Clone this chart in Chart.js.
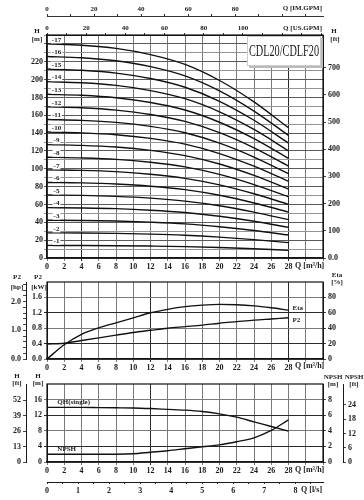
<!DOCTYPE html>
<html>
<head>
<meta charset="utf-8">
<script src="https://cdn.jsdelivr.net/npm/chart.js@4/dist/chart.umd.min.js"></script>
<style>
  html, body { margin: 0; padding: 0; background: #fff; }
  #wrap { position: relative; width: 364px; height: 500px; }
  canvas { position: absolute; left: 0; }
</style>
</head>
<body>
<div id="wrap">
  <canvas id="qhChart" width="364" height="272" style="top:0"></canvas>
  <canvas id="powerChart" width="364" height="104" style="top:268px"></canvas>
  <canvas id="npshChart" width="364" height="128" style="top:372px"></canvas>
</div>
<script>
// ---- data ----
// QH curves, one row per stage count (1..17), head in m at stageQ
const stageQ = [0, 4, 8, 12, 16, 20, 24, 28];
const stageHeads = [
  [14.1, 14.0, 13.8, 13.4, 12.8, 11.7, 10.3, 8.6],
  [28.2, 28.1, 27.6, 26.8, 25.5, 23.4, 20.6, 17.2],
  [42.4, 42.1, 41.5, 40.2, 38.3, 35.1, 30.9, 25.8],
  [56.5, 56.1, 55.3, 53.6, 51.0, 46.8, 41.2, 34.4],
  [70.6, 70.2, 69.1, 67.1, 63.8, 58.6, 51.5, 43.0],
  [84.7, 84.2, 82.9, 80.5, 76.6, 70.3, 61.7, 51.5],
  [98.8, 98.2, 96.8, 93.9, 89.3, 82.0, 72.0, 60.1],
  [113.0, 112.2, 110.6, 107.3, 102.1, 93.7, 82.3, 68.7],
  [127.1, 126.3, 124.4, 120.7, 114.8, 105.4, 92.6, 77.3],
  [141.2, 140.3, 138.2, 134.1, 127.6, 117.1, 102.9, 85.9],
  [155.3, 154.3, 152.0, 147.5, 140.4, 128.8, 113.2, 94.5],
  [169.4, 168.4, 165.8, 160.9, 153.1, 140.5, 123.5, 103.1],
  [183.5, 182.4, 179.7, 174.3, 165.9, 152.2, 133.8, 111.7],
  [197.7, 196.4, 193.5, 187.7, 178.6, 163.9, 144.1, 120.2],
  [211.8, 210.4, 207.3, 201.2, 191.4, 175.7, 154.4, 128.8],
  [225.9, 224.5, 221.1, 214.6, 204.2, 187.4, 164.7, 137.4],
  [240.0, 238.5, 235.0, 228.0, 217.0, 199.0, 175.0, 146.0]
];

// power / efficiency and single stage head / NPSH
const curveQ = [0, 2, 4, 6, 8, 10, 12, 14, 16, 18, 20, 22, 24, 26, 28];
const p2Kw = [0.39, 0.41, 0.48, 0.55, 0.62, 0.69, 0.745, 0.80, 0.84, 0.88, 0.93, 0.97, 1.01, 1.04, 1.07];
const etaPct = [0, 18.5, 32, 40.5, 47, 53.5, 60, 64.5, 68, 70, 71, 70.5, 69, 66.5, 63.5];
const qhSingle = [14.0, 14.0, 14.0, 13.95, 13.9, 13.85, 13.7, 13.5, 13.3, 12.95, 12.35, 11.5, 10.3, 9.1, 7.9];
const npshReq = [1.0, 1.0, 1.0, 1.0, 1.0, 1.05, 1.25, 1.45, 1.7, 1.95, 2.2, 2.6, 3.1, 4.05, 5.4];

// tick labels
const qLabels = [0, 2, 4, 6, 8, 10, 12, 14, 16, 18, 20, 22, 24, 26, 28];
const usGpmLabels = [0, 20, 40, 60, 80, 100];
const imGpmLabels = [0, 20, 40, 60, 80];
const headLabels = [0, 20, 40, 60, 80, 100, 120, 140, 160, 180, 200, 220];
const headFtTicks = [0, 100, 200, 300, 400, 500, 600, 700];
const kwTicks = [0, 0.4, 0.8, 1.2, 1.6];
const hpLabels = [0, 1, 2];
const etaTicks = [0, 20, 40, 60, 80];
const hTicks = [0, 4, 8, 12, 16];
const hFtTicks = [0, 13, 26, 39, 52];
const npshTicks = [0, 2, 4, 6, 8];
const npshFtTicks = [0, 6, 12, 18, 24];
const lsLabels = [0, 1, 2, 3, 4, 5, 6, 7, 8];

// ---- helpers ----
const ink = "#1a1a1a";
const serif = "Liberation Serif";
const tickFont = { family: serif, size: 8, weight: "bold" };
const smallFont = { family: serif, size: 7, weight: "bold" };
const noteFont = 'bold 7px "Liberation Serif"';
const QMAX = 32;

Chart.defaults.font.family = serif;
Chart.defaults.color = ink;

function fixWidth(w) { return s => { s.width = w; }; }
function fixHeight(h) { return s => { s.height = h; }; }
function setTicks(list) { return s => { s.ticks = list.map(v => ({ value: v })); }; }
function steps(max, step) {
  const out = [];
  for (let i = 0; i * step <= max + 1e-9; i++) out.push(Math.round(i * step * 100) / 100);
  return out;
}
function pairs(xs, ys) { return xs.map((x, i) => ({ x: x, y: ys[i] })); }
function has(list, v) { return list.some(t => Math.abs(t - v) < 1e-6); }

function curve(data, yAxisID) {
  return {
    data: data, xAxisID: "x", yAxisID: yAxisID,
    borderColor: "#111", borderWidth: 1.4, pointRadius: 0,
    cubicInterpolationMode: "monotone", fill: false
  };
}

function qAxis(height, dark) {
  return {
    type: "linear", position: "bottom", min: 0, max: QMAX, weight: 0,
    afterFit: fixHeight(height),
    afterBuildTicks: setTicks(steps(QMAX, 2)),
    ticks: { autoSkip: false, maxRotation: 0, padding: 1, font: tickFont, color: ink,
      callback: v => has(qLabels, v) ? v : "" },
    grid: { tickLength: 3, lineWidth: 1,
      color: c => has(dark, c.tick.value) ? "#2a2a2a" : "#7a7a7a" },
    border: { color: ink, width: 1.2 }
  };
}

function sideAxis(pos, weight, width, min, max, ticks, fmt, onChart) {
  return {
    type: "linear", position: pos, min: min, max: max, weight: weight,
    afterFit: fixWidth(width),
    afterBuildTicks: setTicks(ticks),
    ticks: { autoSkip: false, padding: 2, font: tickFont, color: ink, callback: fmt },
    grid: { drawOnChartArea: !!onChart, tickLength: 3, color: "#444" },
    border: { color: ink, width: 1 }
  };
}

const framePlugin = {
  id: "frame",
  afterDatasetsDraw(chart) {
    const a = chart.chartArea, ctx = chart.ctx;
    ctx.save();
    ctx.strokeStyle = "#111";
    ctx.lineWidth = 1.2;
    ctx.strokeRect(a.left, a.top, a.right - a.left, a.bottom - a.top);
    ctx.restore();
  }
};

function notesPlugin(build) {
  return {
    id: "notes",
    afterDraw(chart) {
      const ctx = chart.ctx;
      ctx.save();
      ctx.textBaseline = "middle";
      build(chart).forEach(n => {
        ctx.font = n.font || noteFont;
        ctx.textAlign = n.align || "center";
        if (n.bg) {
          const w = ctx.measureText(n.t).width;
          const x0 = n.align === "left" ? n.x : n.x - w / 2;
          ctx.fillStyle = "#fff";
          ctx.fillRect(x0 - 1, n.y - 3.5, w + 2, 7);
        }
        ctx.fillStyle = ink;
        ctx.fillText(n.t, n.x, n.y);
      });
      ctx.restore();
    }
  };
}

const baseOptions = {
  responsive: false,
  animation: false,
  plugins: { legend: { display: false }, tooltip: { enabled: false } }
};

// ---- QH chart for all stages ----
const modelBox = {
  id: "modelBox",
  afterDraw(chart) {
    const ctx = chart.ctx;
    ctx.save();
    ctx.fillStyle = "#bbb";
    ctx.fillRect(249, 38, 74, 30);
    ctx.fillStyle = "#fff";
    ctx.fillRect(247, 36, 74, 30);
    ctx.strokeStyle = "#ccc";
    ctx.lineWidth = 1;
    ctx.strokeRect(247.5, 36.5, 73, 29);
    ctx.fillStyle = ink;
    ctx.font = '16px "Liberation Serif"';
    ctx.textAlign = "center";
    ctx.textBaseline = "middle";
    ctx.fillText("CDL20/CDLF20", 284, 52, 70);
    ctx.restore();
  }
};

new Chart(document.getElementById("qhChart").getContext("2d"), {
  type: "line",
  data: {
    datasets: stageHeads.map(h => curve(pairs(stageQ, h), "y"))
  },
  options: Object.assign({}, baseOptions, {
    layout: { padding: 0 },
    scales: {
      x: qAxis(14, [4, 28]),
      xUS: {
        type: "linear", position: "top", min: 0, max: QMAX * 4.4029, weight: 0,
        afterFit: fixHeight(19),
        afterBuildTicks: setTicks(steps(140, 10)),
        ticks: { autoSkip: false, maxRotation: 0, padding: 1, font: smallFont, color: ink,
          callback: v => has(usGpmLabels, v) ? v : "" },
        grid: { drawOnChartArea: false, tickLength: 2, color: "#333" },
        border: { color: ink }
      },
      xIM: {
        type: "linear", position: "top", min: 0, max: QMAX * 3.6662, weight: 1,
        afterFit: fixHeight(16),
        afterBuildTicks: setTicks(steps(110, 10)),
        ticks: { autoSkip: false, maxRotation: 0, padding: 1, font: smallFont, color: ink,
          callback: v => has(imGpmLabels, v) ? v : "" },
        grid: { drawOnChartArea: false, tickLength: 2, color: "#333" },
        border: { color: "#333" }
      },
      y: {
        type: "linear", position: "left", min: 0, max: 250, weight: 0,
        afterFit: fixWidth(47),
        afterBuildTicks: setTicks(steps(250, 10)),
        ticks: { autoSkip: false, padding: 1, font: tickFont, color: ink,
          callback: v => has(headLabels, v) ? v : "" },
        grid: { tickLength: 3, color: c => c.tick.value % 20 === 0 ? "#5a5a5a" : "#959595" },
        border: { color: ink, width: 1.2 }
      },
      yft: sideAxis("right", 0, 41, 0, 250 * 3.28084, headFtTicks, v => v === 0 ? "0.0" : v, false)
    }
  }),
  plugins: [framePlugin, modelBox, notesPlugin(chart => {
    const xs = chart.scales.x, ys = chart.scales.y;
    const notes = stageHeads.map((h, i) => ({
      t: "-" + (i + 1), x: xs.getPixelForValue(1.1), y: ys.getPixelForValue(h[0]) - 4, bg: true
    }));
    return notes.concat([
      { t: "H", x: 37, y: 31 }, { t: "[m]", x: 37, y: 39 },
      { t: "H", x: 334, y: 31 }, { t: "[ft]", x: 335, y: 39 },
      { t: "Q [IM.GPM]", x: 322, y: 8, align: "right" },
      { t: "Q [US.GPM]", x: 322, y: 28, align: "right" },
      { t: "Q [m\u00b3/h]", x: 295, y: 266, align: "left", font: 'bold 8px "Liberation Serif"' }
    ]);
  })]
});

// ---- P2 / Eta chart ----
new Chart(document.getElementById("powerChart").getContext("2d"), {
  type: "line",
  data: {
    datasets: [
      curve(pairs(curveQ, etaPct), "yEta"),
      curve(pairs(curveQ, p2Kw), "y")
    ]
  },
  options: Object.assign({}, baseOptions, {
    layout: { padding: { top: 14, left: 0, right: 0, bottom: 0 } },
    scales: {
      x: qAxis(13, [12, 28]),
      y: Object.assign(sideAxis("left", 0, 21, 0, 2.0, kwTicks, v => v.toFixed(1), true), {
        grid: { drawOnChartArea: true, tickLength: 3,
          color: c => has([0.4, 1.2], c.tick.value) ? "#2a2a2a" : "#7a7a7a" }
      }),
      yhp: sideAxis("left", 1, 26, 0, 2.0 / 0.7457, steps(2.6, 0.2),
        v => has(hpLabels, v) ? v.toFixed(1) : "", false),
      yEta: sideAxis("right", 0, 41, 0, 100, etaTicks, v => v, false)
    }
  }),
  plugins: [framePlugin, notesPlugin(chart => {
    const xs = chart.scales.x;
    const xEnd = xs.getPixelForValue(curveQ[curveQ.length - 1]) + 4;
    return [
      { t: "P2", x: 17, y: 9 }, { t: "[hp]", x: 17, y: 19 },
      { t: "P2", x: 38, y: 9 }, { t: "[kW]", x: 39, y: 19 },
      { t: "Eta", x: 337, y: 7 }, { t: "[%]", x: 337, y: 14 },
      { t: "Eta", x: xEnd, y: chart.scales.yEta.getPixelForValue(etaPct[etaPct.length - 1]) - 2, align: "left" },
      { t: "P2", x: xEnd, y: chart.scales.y.getPixelForValue(p2Kw[p2Kw.length - 1]) + 2, align: "left" },
      { t: "Q [m\u00b3/h]", x: 295, y: 98, align: "left", font: 'bold 8px "Liberation Serif"' }
    ];
  })]
});

// ---- single stage QH and NPSH chart ----
new Chart(document.getElementById("npshChart").getContext("2d"), {
  type: "line",
  data: {
    datasets: [
      curve(pairs(curveQ, qhSingle), "y"),
      curve(pairs(curveQ, npshReq), "yNpsh")
    ]
  },
  options: Object.assign({}, baseOptions, {
    layout: { padding: { top: 12, left: 0, right: 0, bottom: 0 } },
    scales: {
      x: qAxis(20, [12]),
      xLs: {
        type: "linear", position: "bottom", min: 0, max: QMAX / 3.6, weight: 1,
        afterFit: fixHeight(18),
        afterBuildTicks: setTicks(steps(8.5, 0.5)),
        ticks: { autoSkip: false, maxRotation: 0, padding: 2, font: tickFont, color: ink,
          callback: v => has(lsLabels, v) ? v : "" },
        grid: { drawOnChartArea: false, tickLength: 2, color: "#333" },
        border: { color: ink, width: 1 }
      },
      y: Object.assign(sideAxis("left", 0, 21, 0, 20, hTicks, v => v, true), {
        grid: { drawOnChartArea: true, tickLength: 3,
          color: c => has([4, 12], c.tick.value) ? "#2a2a2a" : "#7a7a7a" }
      }),
      yft: sideAxis("left", 1, 26, 0, 20 * 3.28084, hFtTicks, v => v, false),
      yNpsh: sideAxis("right", 0, 20, 0, 10, npshTicks, v => v, false),
      yNpshFt: sideAxis("right", 1, 21, 0, 10 * 3.28084, npshFtTicks, v => v, false)
    }
  }),
  plugins: [framePlugin, notesPlugin(chart => {
    const xs = chart.scales.x;
    return [
      { t: "H", x: 17, y: 4 }, { t: "[ft]", x: 17, y: 11 },
      { t: "H", x: 38, y: 4 }, { t: "[m]", x: 38, y: 11 },
      { t: "NPSH", x: 333, y: 5 }, { t: "[m]", x: 333, y: 12 },
      { t: "NPSH", x: 354, y: 5 }, { t: "[ft]", x: 354, y: 12 },
      { t: "QH(single)", x: xs.getPixelForValue(1.2), y: chart.scales.y.getPixelForValue(qhSingle[0]) - 5, align: "left" },
      { t: "NPSH", x: xs.getPixelForValue(1.2), y: chart.scales.yNpsh.getPixelForValue(npshReq[0]) - 5, align: "left" },
      { t: "Q [m\u00b3/h]", x: 295, y: 98, align: "left", font: 'bold 8px "Liberation Serif"' },
      { t: "Q [l/s]", x: 301, y: 118, align: "left", font: 'bold 8px "Liberation Serif"' }
    ];
  })]
});
</script>
</body>
</html>
